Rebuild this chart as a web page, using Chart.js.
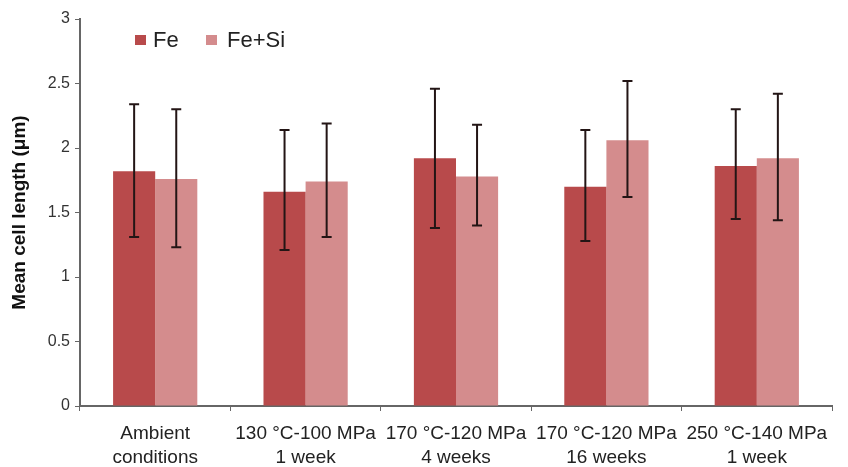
<!DOCTYPE html>
<html>
<head>
<meta charset="utf-8">
<script src="https://cdn.jsdelivr.net/npm/chart.js@4/dist/chart.umd.min.js"></script>
<style>
  html, body { margin: 0; padding: 0; background: #fff; }
  #wrap { width: 848px; height: 467px; }
</style>
</head>
<body>
<div id="wrap"><canvas id="c"></canvas></div>
<script>
const categories = [
  ['Ambient', 'conditions'],
  ['130 °C-100 MPa', '1 week'],
  ['170 °C-120 MPa', '4 weeks'],
  ['170 °C-120 MPa', '16 weeks'],
  ['250 °C-140 MPa', '1 week']
];
const feValues = [1.82, 1.66, 1.92, 1.70, 1.86];
const feLow    = [1.31, 1.21, 1.38, 1.28, 1.45];
const feHigh   = [2.34, 2.14, 2.46, 2.14, 2.30];
const fesiValues = [1.76, 1.74, 1.78, 2.06, 1.92];
const fesiLow    = [1.23, 1.31, 1.40, 1.62, 1.44];
const fesiHigh   = [2.30, 2.19, 2.18, 2.52, 2.42];

const FONT = '"Liberation Sans", Arial, sans-serif';

// whiskers drawn from the low/high arrays
const errorBars = {
  id: 'errorBars',
  afterDatasetsDraw(chart) {
    const ctx = chart.ctx;
    const y = chart.scales.y;
    const ranges = [[feLow, feHigh], [fesiLow, fesiHigh]];
    ctx.save();
    ctx.strokeStyle = '#231515';
    ctx.lineWidth = 2;
    chart.data.datasets.forEach((ds, di) => {
      const meta = chart.getDatasetMeta(di);
      meta.data.forEach((bar, i) => {
        const x = bar.x;
        const lo = y.getPixelForValue(ranges[di][0][i]);
        const hi = y.getPixelForValue(ranges[di][1][i]);
        ctx.beginPath();
        ctx.moveTo(x, lo); ctx.lineTo(x, hi);
        ctx.moveTo(x - 5, lo); ctx.lineTo(x + 5, lo);
        ctx.moveTo(x - 5, hi); ctx.lineTo(x + 5, hi);
        ctx.stroke();
      });
    });
    ctx.restore();
  }
};

// legend sitting inside the plot, top left
const innerLegend = {
  id: 'innerLegend',
  afterDraw(chart) {
    const ctx = chart.ctx;
    const pos = [[135, 153], [206, 227]];
    ctx.save();
    ctx.font = '22px ' + FONT;
    ctx.textBaseline = 'middle';
    chart.data.datasets.forEach((ds, i) => {
      ctx.fillStyle = ds.backgroundColor;
      ctx.fillRect(pos[i][0], 35, 11, 10);
      ctx.fillStyle = '#222';
      ctx.fillText(ds.label, pos[i][1], 41);
    });
    ctx.restore();
  }
};

new Chart(document.getElementById('c'), {
  type: 'bar',
  data: {
    labels: categories,
    datasets: [
      { label: 'Fe', data: feValues, backgroundColor: '#b84a4b' },
      { label: 'Fe+Si', data: fesiValues, backgroundColor: '#d48c8d' }
    ]
  },
  options: {
    responsive: true,
    maintainAspectRatio: false,
    animation: false,
    layout: { padding: { top: 19, right: 16, left: 0, bottom: 0 } },
    plugins: { legend: { display: false }, tooltip: { enabled: false } },
    datasets: { bar: { categoryPercentage: 0.56, barPercentage: 1.0 } },
    scales: {
      x: {
        grid: { display: true, drawOnChartArea: false, drawTicks: true, tickLength: 5, color: '#666', offset: true },
        border: { color: '#666', width: 2 },
        ticks: { color: '#222', font: { family: FONT, size: 19, lineHeight: 1.26 }, maxRotation: 0, autoSkip: false, padding: 11 },
        afterFit(s) { s.height = 61; }
      },
      y: {
        min: 0, max: 3,
        ticks: {
          stepSize: 0.5, color: '#333', font: { family: FONT, size: 16 }, padding: 5,
          callback: v => String(v)
        },
        grid: { display: true, drawOnChartArea: false, drawTicks: true, tickLength: 5, color: '#666' },
        border: { color: '#666', width: 2 },
        title: { display: true, text: 'Mean cell length (μm)', color: '#111', font: { family: FONT, size: 19, weight: 'bold' }, padding: { top: 8, bottom: 0 } },
        afterFit(s) { s.width = 80; }
      }
    }
  },
  plugins: [errorBars, innerLegend]
});
</script>
</body>
</html>
